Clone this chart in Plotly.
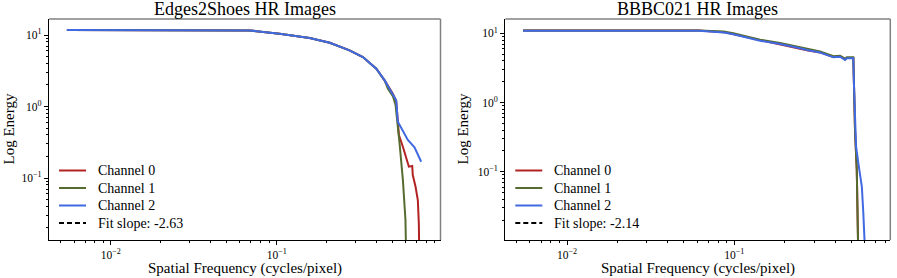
import plotly.graph_objects as go

# ---------------- data ----------------
titles = ["Edges2Shoes HR Images", "BBBC021 HR Images"]
channel_names = ["Channel 0", "Channel 1", "Channel 2"]
fit_labels = ["Fit slope: -2.63", "Fit slope: -2.14"]

# Edges2Shoes
e_red_x = [0.00543, 0.062, 0.0688, 0.104, 0.158, 0.209, 0.275, 0.331, 0.399, 0.448, 0.502, 0.526,
           0.546, 0.577, 0.627, 0.657, 0.662, 0.688, 0.710, 0.720, 0.727]
e_red_y = [11.8, 11.8, 11.6, 10.4, 9.08, 7.8, 6.1, 4.92, 3.38, 2.32, 1.51, 1.18,
           0.40, 0.274, 0.144, 0.147, 0.110, 0.0755, 0.049, 0.0232, 0.005]
e_green_x = [0.00543, 0.062, 0.0688, 0.104, 0.158, 0.209, 0.275, 0.331, 0.399, 0.448, 0.469, 0.502,
             0.521, 0.551, 0.577, 0.598, 0.606]
e_green_y = [11.8, 11.8, 11.6, 10.4, 9.08, 7.8, 6.1, 4.92, 3.38, 2.3, 1.77, 1.40,
             1.05, 0.305, 0.094, 0.0259, 0.005]
e_blue_x = [0.00543, 0.062, 0.0688, 0.104, 0.158, 0.209, 0.275, 0.331, 0.399, 0.448, 0.502, 0.526,
            0.538, 0.577, 0.618, 0.678, 0.744]
e_blue_y = [11.8, 11.8, 11.6, 10.4, 9.08, 7.8, 6.1, 4.92, 3.38, 2.32, 1.51, 1.22,
            0.612, 0.445, 0.34, 0.269, 0.169]

# BBBC021
b_gr_x = [0.00546, 0.0612, 0.0864, 0.0986, 0.1425, 0.1875, 0.247, 0.271, 0.325, 0.391, 0.428,
          0.459, 0.470, 0.503, 0.514, 0.519, 0.526, 0.539, 0.546, 0.552]
b_red_y = [10.95, 10.95, 10.4, 9.7, 7.9, 6.9, 6.0, 5.7, 5.3, 4.55, 4.65,
           4.2, 4.4, 4.4, 4.4, 1.72, 0.40, 0.106, 0.0312, 0.004]
b_green_y = [11.0, 11.0, 10.6, 10.0, 8.1, 7.25, 6.3, 5.95, 5.45, 4.68, 4.75,
             4.3, 4.5, 4.5, 4.5, 1.75, 0.40, 0.106, 0.0312, 0.004]
b_blue_x = [0.00546, 0.0612, 0.0864, 0.0986, 0.1425, 0.1875, 0.247, 0.271, 0.325, 0.391, 0.428,
            0.459, 0.470, 0.503, 0.514, 0.519, 0.526, 0.534, 0.551, 0.578, 0.590, 0.604, 0.61]
b_blue_y = [10.9, 10.9, 10.3, 9.67, 7.82, 7.0, 6.07, 5.74, 5.28, 4.50, 4.59,
            4.11, 4.35, 4.35, 4.35, 1.69, 0.401, 0.23, 0.132, 0.061, 0.025, 0.0103, 0.004]

x_major = [0.01, 0.1]
x_major_text = ["10<sup>−2</sup>", "10<sup>−1</sup>"]
y_major = [0.1, 1, 10]
y_major_text = ["10<sup>−1</sup>", "10<sup>0</sup>", "10<sup>1</sup>"]
x_minor = [m * 10.0 ** e for e in (-3, -2, -1) for m in range(2, 10)]
y_minor = [m * 10.0 ** e for e in (-2, -1, 0, 1) for m in range(2, 10)]

colors = ["#B22222", "#556B2F", "#4169E1"]
FONT = "Liberation Serif, serif"
W, H = 897, 278

panels = [
    dict(series=[(e_red_x, e_red_y), (e_green_x, e_green_y), (e_blue_x, e_blue_y)],
         xr=[-2.373, -0.012], yr=[-1.867, 1.224], left=49.0, right=440.5, ylab=8),
    dict(series=[(b_gr_x, b_red_y), (b_gr_x, b_green_y), (b_blue_x, b_blue_y)],
         xr=[-2.369, -0.068], yr=[-1.987, 1.207], left=505.3, right=890.3, ylab=462),
]
ydom = [1 - 240 / H, 1 - 19 / H]
legend_rows_px = [170.5, 188.0, 205.5, 223.0]

fig = go.Figure()
for i, p in enumerate(panels):
    sfx = "" if i == 0 else str(i + 1)
    dom = [p["left"] / W, p["right"] / W]
    for j, (xs, ys) in enumerate(p["series"]):
        fig.add_trace(go.Scatter(x=xs, y=ys, mode="lines", name=channel_names[j],
                                 line=dict(color=colors[j], width=2),
                                 xaxis="x" + sfx, yaxis="y" + sfx, showlegend=False))
    axcommon = dict(type="log", showgrid=False, zeroline=False, showline=True, automargin=False,
                    linecolor="black", linewidth=1.2, ticks="outside", ticklen=4,
                    tickwidth=0.8, tickcolor="black",
                    tickfont=dict(family=FONT, size=11.5, color="black"))
    fig.layout["xaxis" + sfx] = dict(axcommon, domain=dom, range=p["xr"], anchor="y" + sfx,
                                     tickmode="array", tickvals=x_major, ticktext=x_major_text,
                                     minor=dict(tickmode="array", tickvals=x_minor, ticks="outside",
                                                ticklen=2, tickwidth=0.6, tickcolor="black"))
    fig.layout["yaxis" + sfx] = dict(axcommon, domain=ydom, range=p["yr"], anchor="x" + sfx,
                                     tickmode="array", tickvals=y_major, ticktext=y_major_text,
                                     minor=dict(tickmode="array", tickvals=y_minor, ticks="outside",
                                                ticklen=2, tickwidth=0.6, tickcolor="black"))
    xref = "x" + sfx + " domain"
    yref = "y" + sfx + " domain"
    fig.add_shape(type="line", xref=xref, yref=yref, x0=0, x1=1, y0=1, y1=1,
                  line=dict(color="#808080", width=1.5))
    fig.add_shape(type="line", xref=xref, yref=yref, x0=1, x1=1, y0=0, y1=1,
                  line=dict(color="#808080", width=1.5))
    cx = (dom[0] + dom[1]) / 2
    fig.add_annotation(text=titles[i], x=cx, y=1 - 9 / H, xref="paper", yref="paper",
                       showarrow=False, xanchor="center", yanchor="middle",
                       font=dict(family=FONT, size=18, color="black"))
    fig.add_annotation(text="Spatial Frequency (cycles/pixel)", x=cx, y=1 - 268.5 / H,
                       xref="paper", yref="paper", showarrow=False, xanchor="center",
                       yanchor="middle", font=dict(family=FONT, size=15, color="black"))
    fig.add_annotation(text="Log Energy", x=p["ylab"] / W,
                       y=(ydom[0] + ydom[1]) / 2, xref="paper", yref="paper", textangle=-90,
                       showarrow=False, xanchor="center", yanchor="middle",
                       font=dict(family=FONT, size=15, color="black"))
    # legend (drawn manually so that row spacing matches)
    labels = channel_names + [fit_labels[i]]
    lcolors = colors + ["black"]
    for k, (lab, col) in enumerate(zip(labels, lcolors)):
        yy = 1 - legend_rows_px[k] / H
        fig.add_shape(type="line", xref="paper", yref="paper",
                      x0=(p["left"] + 10) / W, x1=(p["left"] + 37) / W, y0=yy, y1=yy,
                      line=dict(color=col, width=2, dash="5px,3px" if k == 3 else "solid"))
        fig.add_annotation(text=lab, x=(p["left"] + 46.5) / W, y=yy, xref="paper", yref="paper",
                           showarrow=False, xanchor="left", yanchor="middle",
                           font=dict(family=FONT, size=14, color="black"))

fig.update_layout(
    width=W, height=H, margin=dict(l=0, r=0, t=0, b=0, autoexpand=False),
    paper_bgcolor="white", plot_bgcolor="white", showlegend=False,
)
fig.write_html("out.html", config={"displayModeBar": False},
               post_script="document.body.style.margin='0px';document.body.style.overflow='hidden';")
